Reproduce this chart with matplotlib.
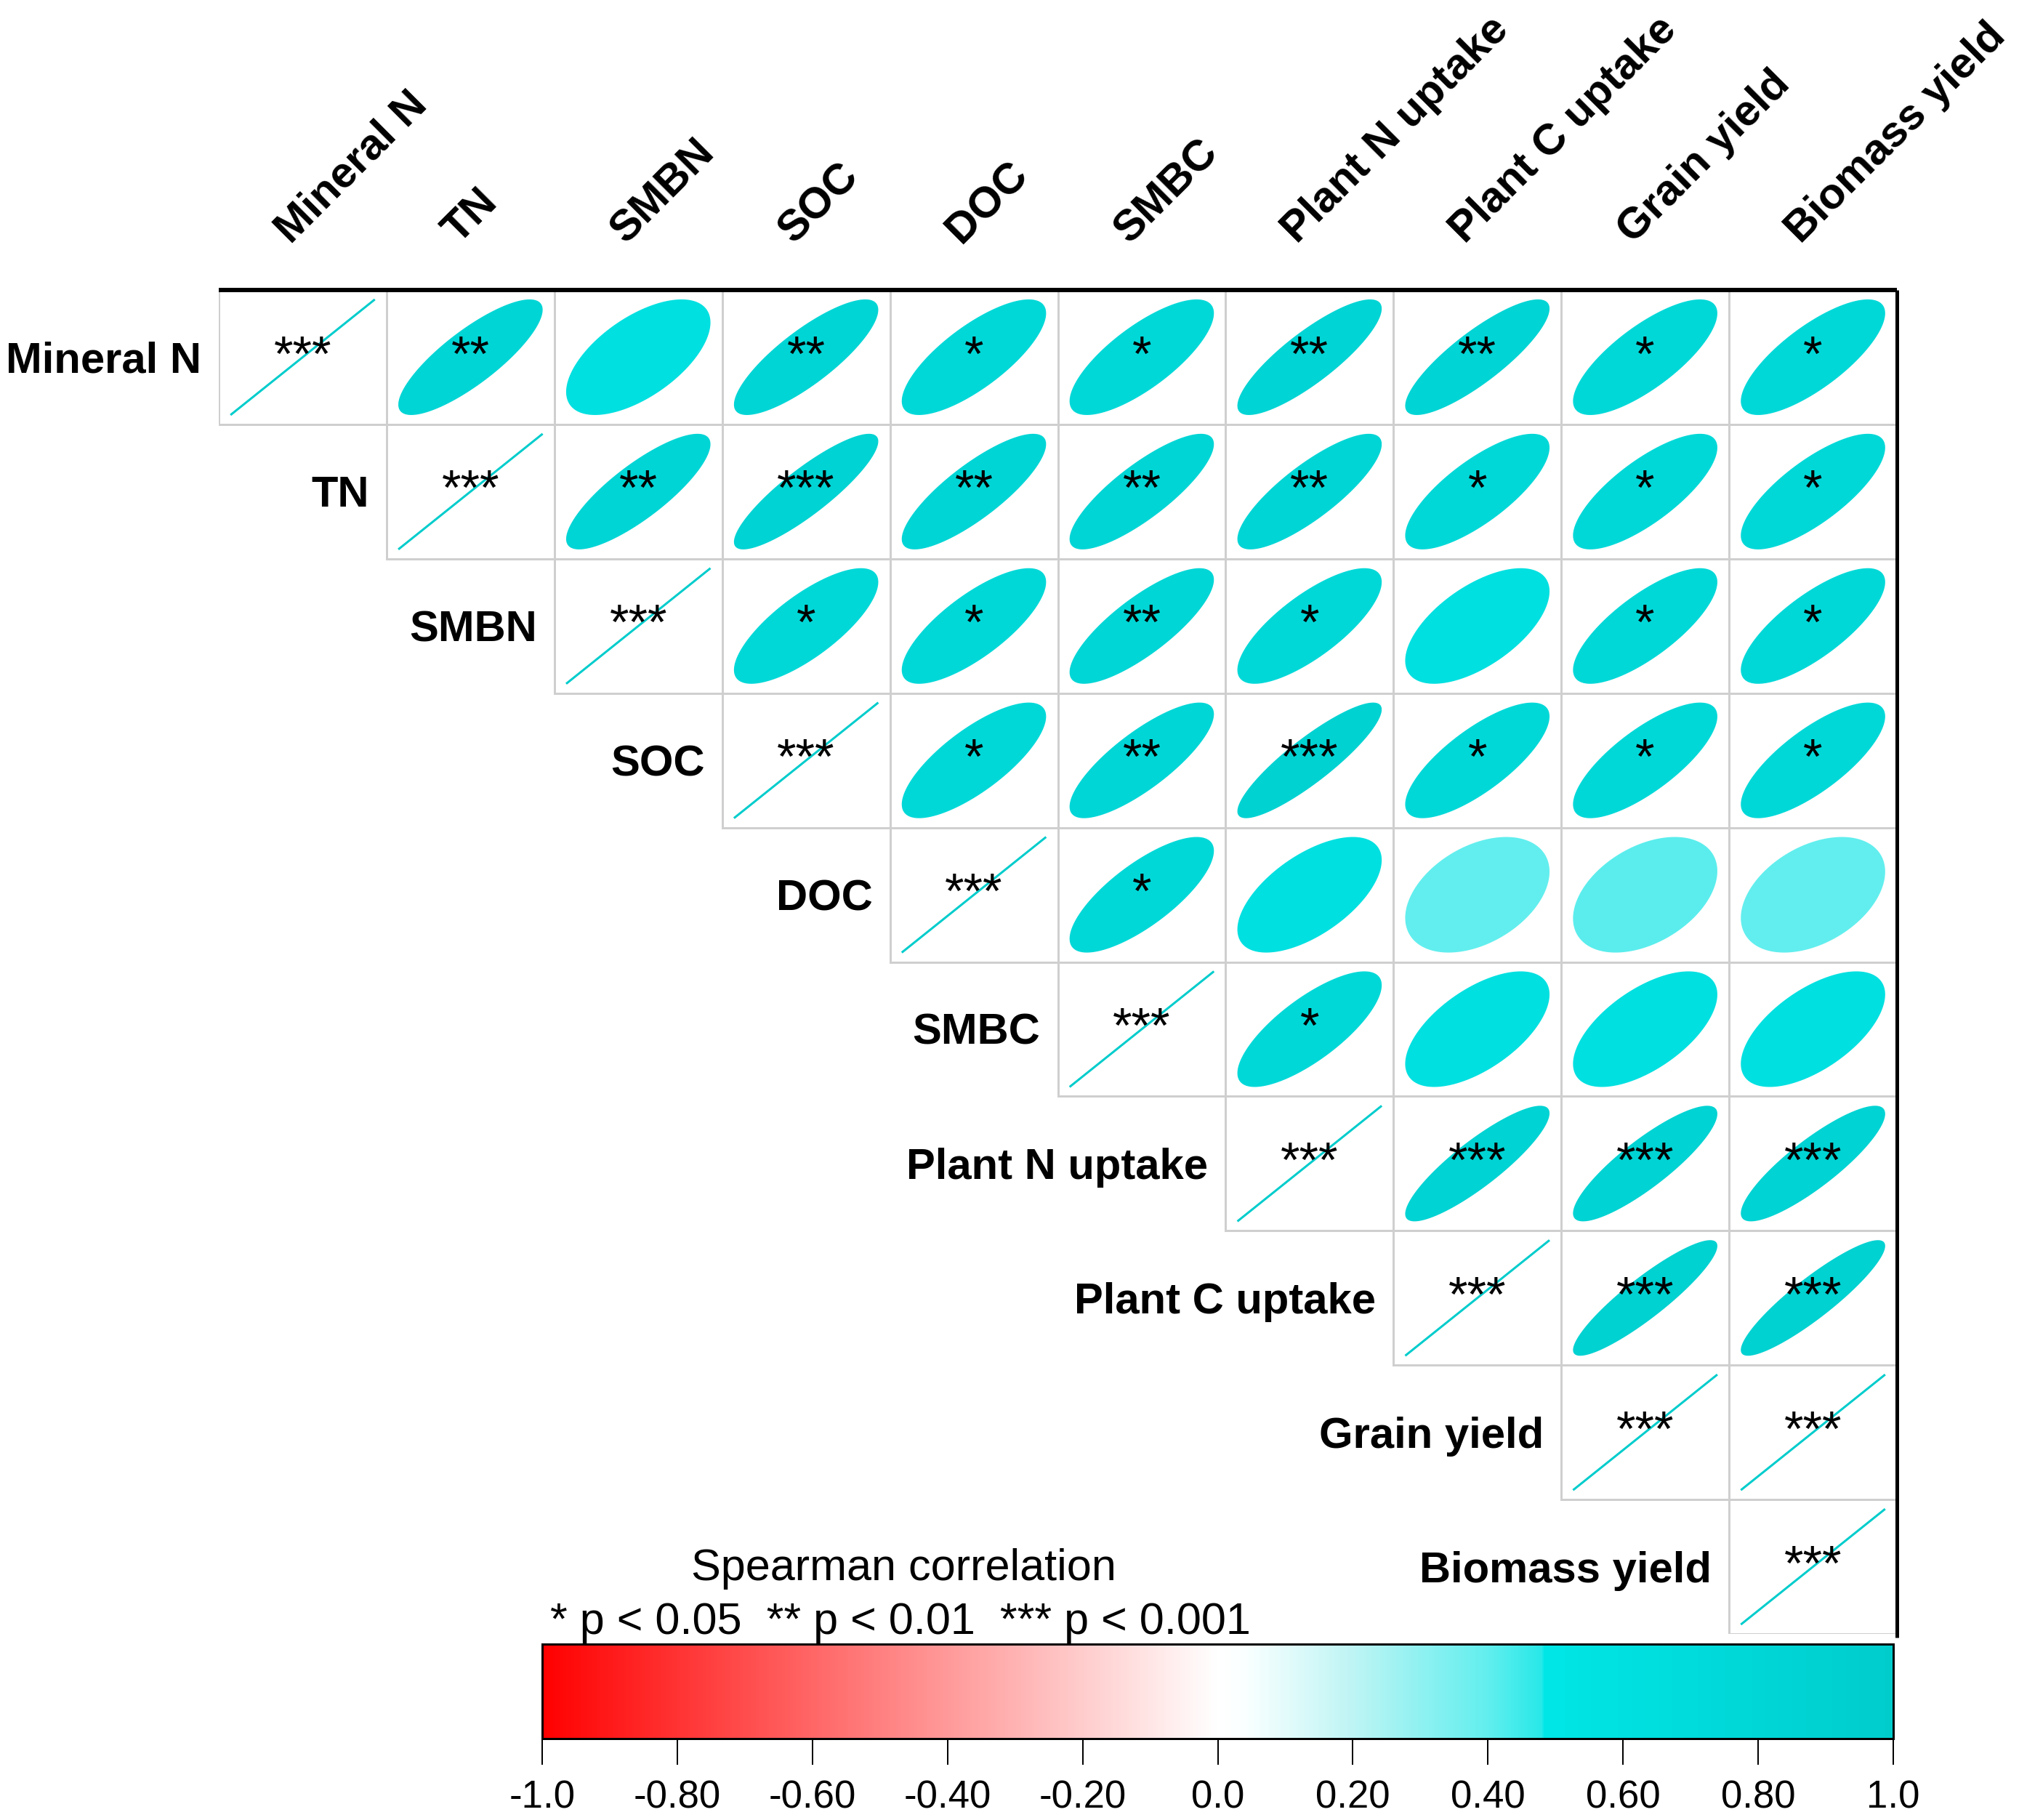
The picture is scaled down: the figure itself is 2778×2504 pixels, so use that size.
import numpy as np
import matplotlib
matplotlib.use("Agg")
import matplotlib.pyplot as plt
from matplotlib.colors import LinearSegmentedColormap, Normalize
from matplotlib.patches import Polygon, Rectangle
from matplotlib.cm import ScalarMappable

# ---------------- data ----------------
labels = ["Mineral N", "TN", "SMBN", "SOC", "DOC", "SMBC",
          "Plant N uptake", "Plant C uptake", "Grain yield", "Biomass yield"]

# upper-triangle correlations, row i starts at column i
corr_r0 = [1.00, 0.82, 0.60, 0.82, 0.76, 0.76, 0.84, 0.84, 0.76, 0.76]
corr_r1 = [1.00, 0.82, 0.87, 0.82, 0.82, 0.82, 0.76, 0.76, 0.76]
corr_r2 = [1.00, 0.76, 0.76, 0.80, 0.76, 0.60, 0.76, 0.76]
corr_r3 = [1.00, 0.76, 0.80, 0.88, 0.76, 0.76, 0.76]
corr_r4 = [1.00, 0.76, 0.60, 0.40, 0.41, 0.40]
corr_r5 = [1.00, 0.76, 0.60, 0.60, 0.60]
corr_r6 = [1.00, 0.87, 0.86, 0.86]
corr_r7 = [1.00, 0.90, 0.90]
corr_r8 = [1.00, 1.00]
corr_r9 = [1.00]
corr_rows = [corr_r0, corr_r1, corr_r2, corr_r3, corr_r4,
             corr_r5, corr_r6, corr_r7, corr_r8, corr_r9]

sig_r0 = ["***", "**", "", "**", "*", "*", "**", "**", "*", "*"]
sig_r1 = ["***", "**", "***", "**", "**", "**", "*", "*", "*"]
sig_r2 = ["***", "*", "*", "**", "*", "", "*", "*"]
sig_r3 = ["***", "*", "**", "***", "*", "*", "*"]
sig_r4 = ["***", "*", "", "", "", ""]
sig_r5 = ["***", "*", "", "", ""]
sig_r6 = ["***", "***", "***", "***"]
sig_r7 = ["***", "***", "***"]
sig_r8 = ["***", "***"]
sig_r9 = ["***"]
sig_rows = [sig_r0, sig_r1, sig_r2, sig_r3, sig_r4,
            sig_r5, sig_r6, sig_r7, sig_r8, sig_r9]

cbar_ticks = [-1.0, -0.8, -0.6, -0.4, -0.2, 0.0, 0.2, 0.4, 0.6, 0.8, 1.0]
cbar_ticklabels = ["-1.0", "-0.80", "-0.60", "-0.40", "-0.20", "0.0",
                   "0.20", "0.40", "0.60", "0.80", "1.0"]
legend_title = "Spearman correlation"
legend_sig = "* p < 0.05  ** p < 0.01  *** p < 0.001"

# ---------------- figure ----------------
plt.rcParams['font.family'] = ['Liberation Sans', 'DejaVu Sans']
W, H, DPI = 2778, 2504, 100
px2pt = 72 / DPI
fig = plt.figure(figsize=(W / DPI, H / DPI), dpi=DPI)
fig.patch.set_facecolor('white')

GL, GR, GT, GB = 301, 2610, 399, 2248
ax = fig.add_axes([GL / W, 1 - GB / H, (GR - GL) / W, (GB - GT) / H])
n = len(labels)
ax.set_xlim(0, n)
ax.set_ylim(n, 0)
ax.axis('off')
ux = (GR - GL) / n
uy = (GB - GT) / n

cmap = LinearSegmentedColormap.from_list(
    'corr', [(0.0, '#FF0000'), (0.5, '#FFFFFF'), (0.52, '#FAFFFF'),
             (0.6, '#BEF4F4'), (0.7, '#62EEEE'), (0.74, '#28E8E8'),
             (0.742, '#00E6E6'), (1.0, '#00CCCC')], N=1024)
norm = Normalize(-1, 1)

scale = 0.86
t = np.linspace(0, 2 * np.pi, 300)
for i in range(n):
    for k, (r, s) in enumerate(zip(corr_rows[i], sig_rows[i])):
        j = i + k
        ax.add_patch(Rectangle((j, i), 1, 1, fill=False, edgecolor='#CFCFCF',
                               lw=3 * px2pt, zorder=1))
        col = cmap(norm(r))
        cx, cy = j + 0.5, i + 0.5
        if r >= 0.999:
            ax.plot([cx - scale / 2, cx + scale / 2], [cy + scale / 2, cy - scale / 2],
                    color=col, lw=3 * px2pt, zorder=2, solid_capstyle='butt')
        else:
            d = np.arccos(r)
            ex = np.cos(t + d / 2) / 2 * scale
            ey = np.cos(t - d / 2) / 2 * scale
            ax.add_patch(Polygon(np.column_stack([cx + ex, cy - ey]), closed=True,
                                 facecolor=col, edgecolor='none', zorder=2))
        if s:
            ax.text(cx, cy + 18 / uy, s, ha='center', va='baseline',
                    fontsize=49, color='black', zorder=3)

for i, lab in enumerate(labels):
    ax.text(i - 24 / ux, i + 0.5 + 21 / uy, lab, ha='right', va='baseline',
            fontsize=43, fontweight='bold', clip_on=False)

for j, lab in enumerate(labels):
    ax.text(j + 0.5 - 17 / ux, -62 / uy, lab, rotation=45, rotation_mode='anchor',
            ha='left', va='baseline', fontsize=43, fontweight='bold', clip_on=False)

ax.plot([0, n], [0, 0], color='black', lw=6 * px2pt, solid_capstyle='butt',
        clip_on=False, zorder=4)
ax.plot([n, n], [0, n + 5 / uy], color='black', lw=5 * px2pt, solid_capstyle='butt',
        clip_on=False, zorder=4)

# ---------------- colorbar ----------------
CL, CR, CT, CB = 746, 2605, 2262, 2392
cax = fig.add_axes([CL / W, 1 - CB / H, (CR - CL) / W, (CB - CT) / H])
sm = ScalarMappable(norm=norm, cmap=cmap)
cb = fig.colorbar(sm, cax=cax, orientation='horizontal', ticks=cbar_ticks)
cb.set_ticklabels(cbar_ticklabels)
cb.outline.set_linewidth(3 * px2pt)
cax.tick_params(axis='x', length=36 * px2pt, width=2 * px2pt, pad=20 * px2pt,
                labelsize=38, direction='out')

fig.text(1243 / W, 1 - 2174 / H, legend_title, ha='center', va='baseline', fontsize=44)
fig.text(757 / W, 1 - 2248 / H, legend_sig, ha='left', va='baseline', fontsize=44)

fig.savefig('out.png', dpi=DPI, facecolor='white')
